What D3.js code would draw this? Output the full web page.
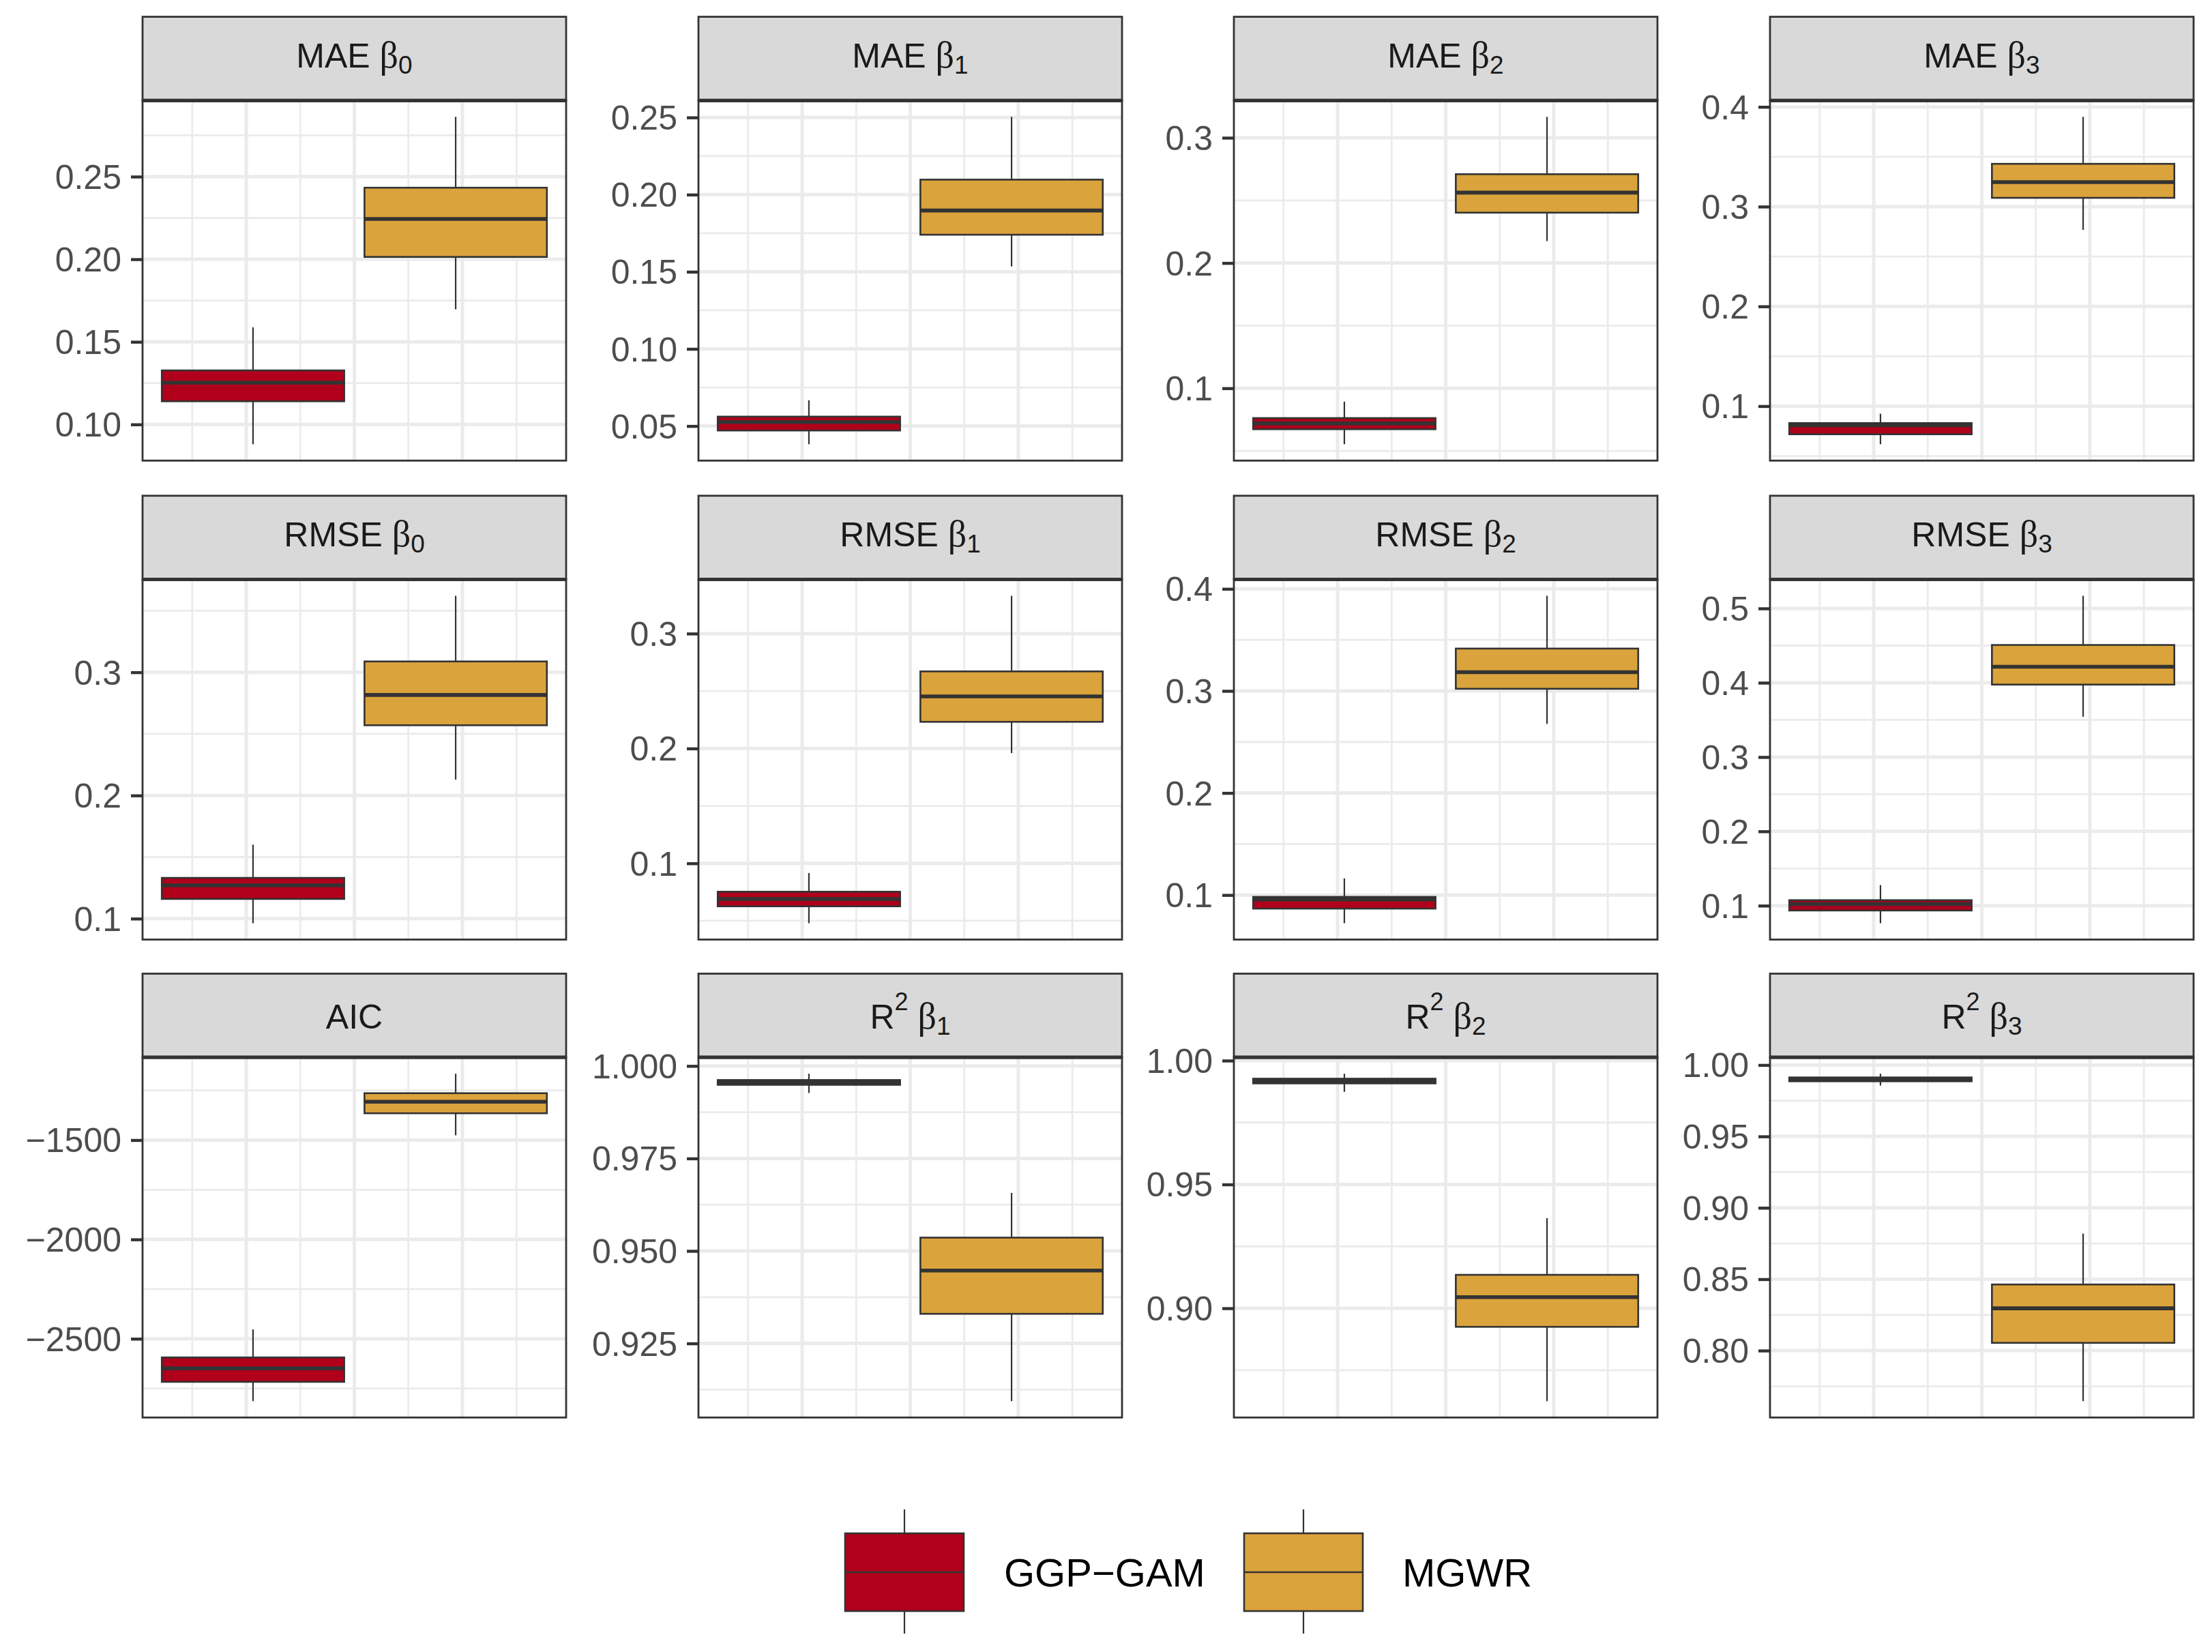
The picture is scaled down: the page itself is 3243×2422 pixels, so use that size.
<!DOCTYPE html>
<html><head><meta charset="utf-8">
<script src="https://cdn.jsdelivr.net/npm/d3@7"></script>
<style>body{margin:0;background:#fff}</style>
</head><body>
<svg id="chart" width="3243" height="2422" xmlns="http://www.w3.org/2000/svg"></svg>
<script>
// ---------- data ----------
const panelMetric = ["MAE","MAE","MAE","MAE","RMSE","RMSE","RMSE","RMSE","AIC","R","R","R"];
const panelSup    = ["","","","","","","","","","2","2","2"];
const panelCoef   = ["0","1","2","3","0","1","2","3","","1","2","3"];
const methods = ["GGP\u2212GAM","MGWR"];
const methodColors = ["#B0001B","#DBA33C"];

const ggLow  = [0.0880,0.0382,0.0553,0.0618,0.0963,0.0479,0.0724,0.0764,-2814,0.9927,0.9874,0.9856];
const ggQ1   = [0.1140,0.0471,0.0673,0.0718,0.1160,0.0626,0.0867,0.0935,-2717,0.9949,0.9908,0.9886];
const ggMed  = [0.1253,0.0526,0.0719,0.0809,0.1270,0.0690,0.0956,0.1021,-2649,0.9956,0.9918,0.9902];
const ggQ3   = [0.1327,0.0561,0.0762,0.0830,0.1331,0.0753,0.0982,0.1074,-2594,0.9962,0.9927,0.9913];
const ggHigh = [0.1588,0.0667,0.0893,0.0924,0.1601,0.0916,0.1163,0.1277,-2453,0.9979,0.9947,0.9939];

const mgLow  = [0.1697,0.1534,0.2175,0.2767,0.2129,0.1960,0.2677,0.3543,-1476,0.9094,0.8625,0.7646];
const mgQ1   = [0.2014,0.1740,0.2402,0.3088,0.2570,0.2232,0.3021,0.3975,-1365,0.9330,0.8925,0.8054];
const mgMed  = [0.2244,0.1897,0.2562,0.3246,0.2816,0.2453,0.3183,0.4215,-1307,0.9447,0.9045,0.8296];
const mgQ3   = [0.2433,0.2097,0.2709,0.3429,0.3088,0.2671,0.3415,0.4508,-1264,0.9536,0.9135,0.8463];
const mgHigh = [0.2862,0.2504,0.3167,0.3900,0.3621,0.3329,0.3932,0.5170,-1166,0.9657,0.9364,0.8819];

const yTickLabels = [
  ["0.10","0.15","0.20","0.25"],
  ["0.05","0.10","0.15","0.20","0.25"],
  ["0.1","0.2","0.3"],
  ["0.1","0.2","0.3","0.4"],
  ["0.1","0.2","0.3"],
  ["0.1","0.2","0.3"],
  ["0.1","0.2","0.3","0.4"],
  ["0.1","0.2","0.3","0.4","0.5"],
  ["\u22122500","\u22122000","\u22121500"],
  ["0.925","0.950","0.975","1.000"],
  ["0.90","0.95","1.00"],
  ["0.80","0.85","0.90","0.95","1.00"]
];

// ---------- layout ----------
const svg = d3.select("#chart");
const colX = [209, 1024, 1809, 2595], panelW = 621;
const rowTop = [24.6, 726.8, 1427.5], stripH = 122.7, plotH = 528;
const FONT = "'Liberation Sans', Arial, sans-serif";
const SERIF = "'Liberation Serif', 'Times New Roman', serif";
const dark = "#333333";

const x = d3.scaleLinear().domain([-0.391875, 0.391875]).range([0, panelW]);
const xMajor = [-0.2, 0, 0.2], xMinor = [-0.3, -0.1, 0.1, 0.3];
const dodge = [-0.1875, 0.1875], boxHalf = 0.16875;

const stats = [
  {low: ggLow, q1: ggQ1, med: ggMed, q3: ggQ3, high: ggHigh},
  {low: mgLow, q1: mgQ1, med: mgMed, q3: mgQ3, high: mgHigh}
];

panelMetric.forEach((metric, i) => {
  const col = i % 4, row = Math.floor(i / 4);
  const px = colX[col], st = rowTop[row], py = st + stripH;
  const lo = Math.min(ggLow[i], mgLow[i]), hi = Math.max(ggHigh[i], mgHigh[i]);
  const pad = (hi - lo) * 0.05;
  const y = d3.scaleLinear().domain([lo - pad, hi + pad]).range([plotH, 0]);
  const major = yTickLabels[i].map(s => parseFloat(s.replace("\u2212", "-")));
  const step = major[1] - major[0];
  const minor = [];
  for (let k = -1; k < major.length; k++) {
    const v = (k < 0 ? major[0] : major[k]) + (k < 0 ? -step / 2 : step / 2);
    if (v >= lo - pad && v <= hi + pad) minor.push(v);
  }

  const g = svg.append("g").attr("transform", `translate(${px},${py})`);
  const clipId = "clip" + i;
  g.append("clipPath").attr("id", clipId).append("rect").attr("width", panelW).attr("height", plotH);
  g.append("rect").attr("width", panelW).attr("height", plotH).attr("fill", "#fff");

  const grid = g.append("g").attr("clip-path", `url(#${clipId})`);
  grid.selectAll("line.ymin").data(minor).join("line")
    .attr("x1", 0).attr("x2", panelW).attr("y1", d => y(d)).attr("y2", d => y(d))
    .attr("stroke", "#EBEBEB").attr("stroke-width", 2.8);
  grid.selectAll("line.xmin").data(xMinor).join("line")
    .attr("y1", 0).attr("y2", plotH).attr("x1", d => x(d)).attr("x2", d => x(d))
    .attr("stroke", "#EBEBEB").attr("stroke-width", 2.8);
  grid.selectAll("line.ymaj").data(major).join("line")
    .attr("x1", 0).attr("x2", panelW).attr("y1", d => y(d)).attr("y2", d => y(d))
    .attr("stroke", "#EBEBEB").attr("stroke-width", 5);
  grid.selectAll("line.xmaj").data(xMajor).join("line")
    .attr("y1", 0).attr("y2", plotH).attr("x1", d => x(d)).attr("x2", d => x(d))
    .attr("stroke", "#EBEBEB").attr("stroke-width", 5);

  // boxes
  stats.forEach((s, k) => {
    const cx = x(dodge[k]);
    const bg = g.append("g");
    bg.append("line").attr("x1", cx).attr("x2", cx).attr("y1", y(s.high[i])).attr("y2", y(s.q3[i]))
      .attr("stroke", dark).attr("stroke-width", 2.2);
    bg.append("line").attr("x1", cx).attr("x2", cx).attr("y1", y(s.q1[i])).attr("y2", y(s.low[i]))
      .attr("stroke", dark).attr("stroke-width", 2.2);
    bg.append("rect").attr("x", x(dodge[k] - boxHalf)).attr("width", x(dodge[k] + boxHalf) - x(dodge[k] - boxHalf))
      .attr("y", y(s.q3[i])).attr("height", y(s.q1[i]) - y(s.q3[i]))
      .attr("fill", methodColors[k]).attr("stroke", dark).attr("stroke-width", 2.6);
    bg.append("line").attr("x1", x(dodge[k] - boxHalf)).attr("x2", x(dodge[k] + boxHalf))
      .attr("y1", y(s.med[i])).attr("y2", y(s.med[i]))
      .attr("stroke", dark).attr("stroke-width", 5.6);
  });

  // panel border
  g.append("rect").attr("width", panelW).attr("height", plotH)
    .attr("fill", "none").attr("stroke", dark).attr("stroke-width", 2.8);

  // y axis
  const axis = d3.axisLeft(y).tickValues(major).tickFormat((d, j) => yTickLabels[i][j])
    .tickSize(17).tickPadding(14);
  const ag = g.append("g").call(axis);
  ag.select(".domain").remove();
  ag.selectAll(".tick line").attr("stroke", dark).attr("stroke-width", 4.4);
  ag.selectAll(".tick text").attr("fill", "#4D4D4D").attr("font-size", 50)
    .attr("font-family", FONT).attr("dy", "0.35em");

  // strip
  const sg = svg.append("g").attr("transform", `translate(${px},${st})`);
  sg.append("rect").attr("width", panelW).attr("height", stripH)
    .attr("fill", "#D9D9D9").attr("stroke", dark).attr("stroke-width", 2.8);
  sg.append("line").attr("x1", 0).attr("x2", panelW).attr("y1", stripH).attr("y2", stripH)
    .attr("stroke", dark).attr("stroke-width", 5.2);
  const hasCoef = panelCoef[i] !== "";
  const base = (panelSup[i] || !hasCoef) ? 80 : 74;
  const t = sg.append("text").attr("x", panelW / 2).attr("y", base)
    .attr("text-anchor", "middle").attr("fill", "#1A1A1A")
    .attr("font-family", FONT).attr("font-size", 50);
  t.append("tspan").text(metric);
  if (panelSup[i]) {
    t.append("tspan").attr("font-size", 36).attr("dy", -27).text(panelSup[i]);
  }
  if (hasCoef) {
    const sp = t.append("tspan").text(" ");
    if (panelSup[i]) sp.attr("dy", 27);
    t.append("tspan").attr("font-family", SERIF).attr("font-size", 54).text("\u03B2");
    t.append("tspan").attr("font-size", 37).attr("dy", 9).text(panelCoef[i]);
  }
});

// ---------- legend ----------
const legKeys = [1239, 1824], legLabelX = [1472, 2056];
const keyW = 174, boxTop = 2248, boxBot = 2362, whTop = 2213, whBot = 2395;
methods.forEach((m, k) => {
  const lg = svg.append("g");
  const cx = legKeys[k] + keyW / 2;
  lg.append("line").attr("x1", cx).attr("x2", cx).attr("y1", whTop).attr("y2", whBot)
    .attr("stroke", dark).attr("stroke-width", 2.2);
  lg.append("rect").attr("x", legKeys[k]).attr("y", boxTop).attr("width", keyW).attr("height", boxBot - boxTop)
    .attr("fill", methodColors[k]).attr("stroke", dark).attr("stroke-width", 2.6);
  lg.append("line").attr("x1", legKeys[k]).attr("x2", legKeys[k] + keyW)
    .attr("y1", (boxTop + boxBot) / 2).attr("y2", (boxTop + boxBot) / 2)
    .attr("stroke", dark).attr("stroke-width", 2.6);
  lg.append("text").attr("x", legLabelX[k]).attr("y", 2326)
    .attr("fill", "#000").attr("font-family", FONT).attr("font-size", 58).text(m);
});
</script>
</body></html>
